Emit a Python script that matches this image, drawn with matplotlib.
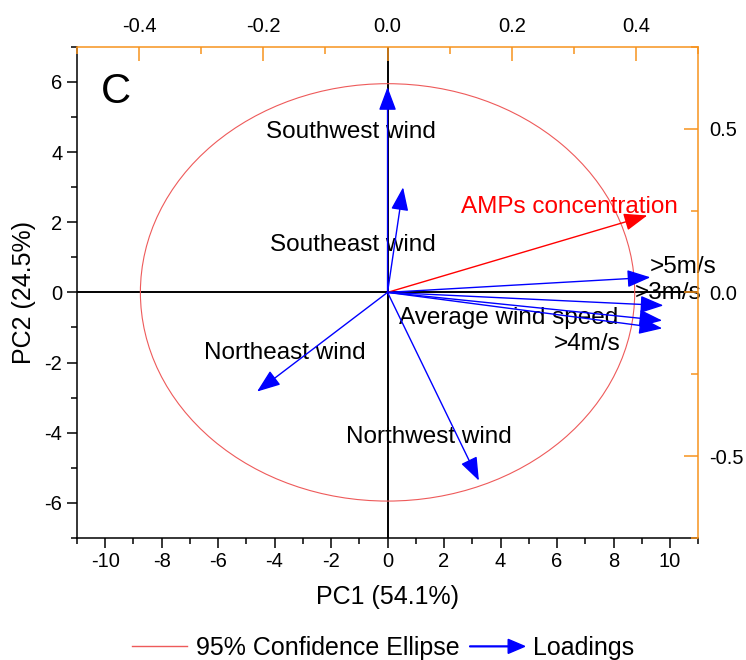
import matplotlib
matplotlib.use('Agg')
import matplotlib.pyplot as plt
import matplotlib.patches as mpatches
from matplotlib.lines import Line2D
from matplotlib.legend_handler import HandlerPatch
from matplotlib.ticker import MultipleLocator

plt.rcParams['font.family'] = ['Liberation Sans', 'DejaVu Sans']
plt.rcParams['axes.unicode_minus'] = False

# loadings (top / right axes scale)
variables = ['Southwest wind', 'Southeast wind', 'AMPs concentration', '>5m/s',
             '>3m/s', 'Average wind speed', '>4m/s', 'Northeast wind', 'Northwest wind']
load_x = [0.0, 0.025, 0.418, 0.423, 0.444, 0.442, 0.442, -0.210, 0.147]
load_y = [0.627, 0.321, 0.235, 0.046, -0.040, -0.086, -0.110, -0.303, -0.575]
arrow_colors = ['blue', 'blue', 'red', 'blue', 'blue', 'blue', 'blue', 'blue', 'blue']
text_colors = ['black', 'black', 'red', 'black', 'black', 'black', 'black', 'black', 'black']

# label anchors (PC1 / PC2 scale)
label_x = [-1.28, -1.24, 6.45, 9.3, 8.75, 4.29, 5.9, -3.65, 1.45]
label_y = [4.56, 1.35, 2.44, 0.72, -0.03, -0.72, -1.46, -1.72, -4.13]
label_ha = ['center', 'center', 'center', 'left', 'left', 'center', 'left', 'center', 'center']

# 95% confidence ellipse
ell_w = 17.5
ell_h = 11.9

orange = '#F7931E'

fig = plt.figure(figsize=(7.46, 6.6), dpi=100)
ax = fig.add_axes([0.103, 0.185, 0.833, 0.744])
ax.set_xlim(-11, 11)
ax.set_ylim(-7, 7)
ax.xaxis.set_major_locator(MultipleLocator(2))
ax.xaxis.set_minor_locator(MultipleLocator(1))
ax.yaxis.set_major_locator(MultipleLocator(2))
ax.yaxis.set_minor_locator(MultipleLocator(1))
ax.tick_params(which='both', direction='out', labelsize=14.5, width=1.1)
ax.tick_params(which='major', length=7)
ax.tick_params(which='minor', length=4)
for s in ['left', 'bottom']:
    ax.spines[s].set_linewidth(1.1)
for s in ['top', 'right']:
    ax.spines[s].set_visible(False)
ax.set_xlabel('PC1 (54.1%)', fontsize=18, labelpad=10)
ax.set_ylabel('PC2 (24.5%)', fontsize=18, labelpad=6)

ax.axhline(0, color='black', lw=1.4, zorder=1)
ax.axvline(0, color='black', lw=1.4, zorder=1)
ax.add_patch(mpatches.Ellipse((0, 0), ell_w, ell_h, fc='none', ec='#EE5A5A', lw=0.8))

ax.text(-9.6, 5.7, 'C', fontsize=30, ha='center', va='center')
for name, lx, ly, ha, c in zip(variables, label_x, label_y, label_ha, text_colors):
    ax.text(lx, ly, name, fontsize=17.5, ha=ha, va='center', color=c, zorder=5)

# loadings axes
axr = ax.twinx()
axr.set_ylim(-0.75, 0.75)
axr.yaxis.set_major_locator(MultipleLocator(0.5))
axr.yaxis.set_minor_locator(MultipleLocator(0.25))
axt = axr.twiny()
axt.set_xlim(-0.5, 0.5)
axt.xaxis.set_major_locator(MultipleLocator(0.2))
axt.xaxis.set_minor_locator(MultipleLocator(0.1))
for a in (axr, axt):
    for s in a.spines.values():
        s.set_visible(False)
axr.spines['right'].set_visible(True)
axr.spines['right'].set_color(orange)
axr.spines['right'].set_linewidth(1.1)
axt.spines['top'].set_visible(True)
axt.spines['top'].set_color(orange)
axt.spines['top'].set_linewidth(1.1)
axr.tick_params(which='both', direction='in', color=orange, labelsize=14.5, width=1.1)
axt.tick_params(which='both', direction='in', color=orange, labelsize=14.5, width=1.1)
for a in (axr, axt):
    a.tick_params(which='major', length=10, pad=8)
    a.tick_params(which='minor', length=5)
axr.yaxis.set_major_formatter(lambda v, p: f'{v:.1f}')
axt.xaxis.set_major_formatter(lambda v, p: f'{v:.1f}')

for x, y, c in zip(load_x, load_y, arrow_colors):
    axt.annotate('', xy=(x, y), xytext=(0, 0),
                 arrowprops=dict(arrowstyle='-|>,head_length=0.8,head_width=0.3',
                                 color=c, lw=1.0, mutation_scale=18,
                                 shrinkA=0, shrinkB=0))


def make_arrow(legend, orig_handle, xdescent, ydescent, width, height, fontsize):
    return mpatches.FancyArrow(0, 0.5 * height, width, 0, width=0.6,
                               length_includes_head=True, head_width=0.8 * height,
                               head_length=0.3 * width, color='blue')


handles = [Line2D([], [], color='#EE5A5A', lw=1.0),
           mpatches.FancyArrow(0, 0, 1, 0, color='blue')]
fig.legend(handles, ['95% Confidence Ellipse', 'Loadings'], loc='center',
           bbox_to_anchor=(0.514, 0.018), ncol=2, frameon=False, fontsize=18,
           handlelength=2.2, handletextpad=0.35, columnspacing=0.4,
           handler_map={mpatches.FancyArrow: HandlerPatch(patch_func=make_arrow)})

fig.savefig('out.png', dpi=100)
